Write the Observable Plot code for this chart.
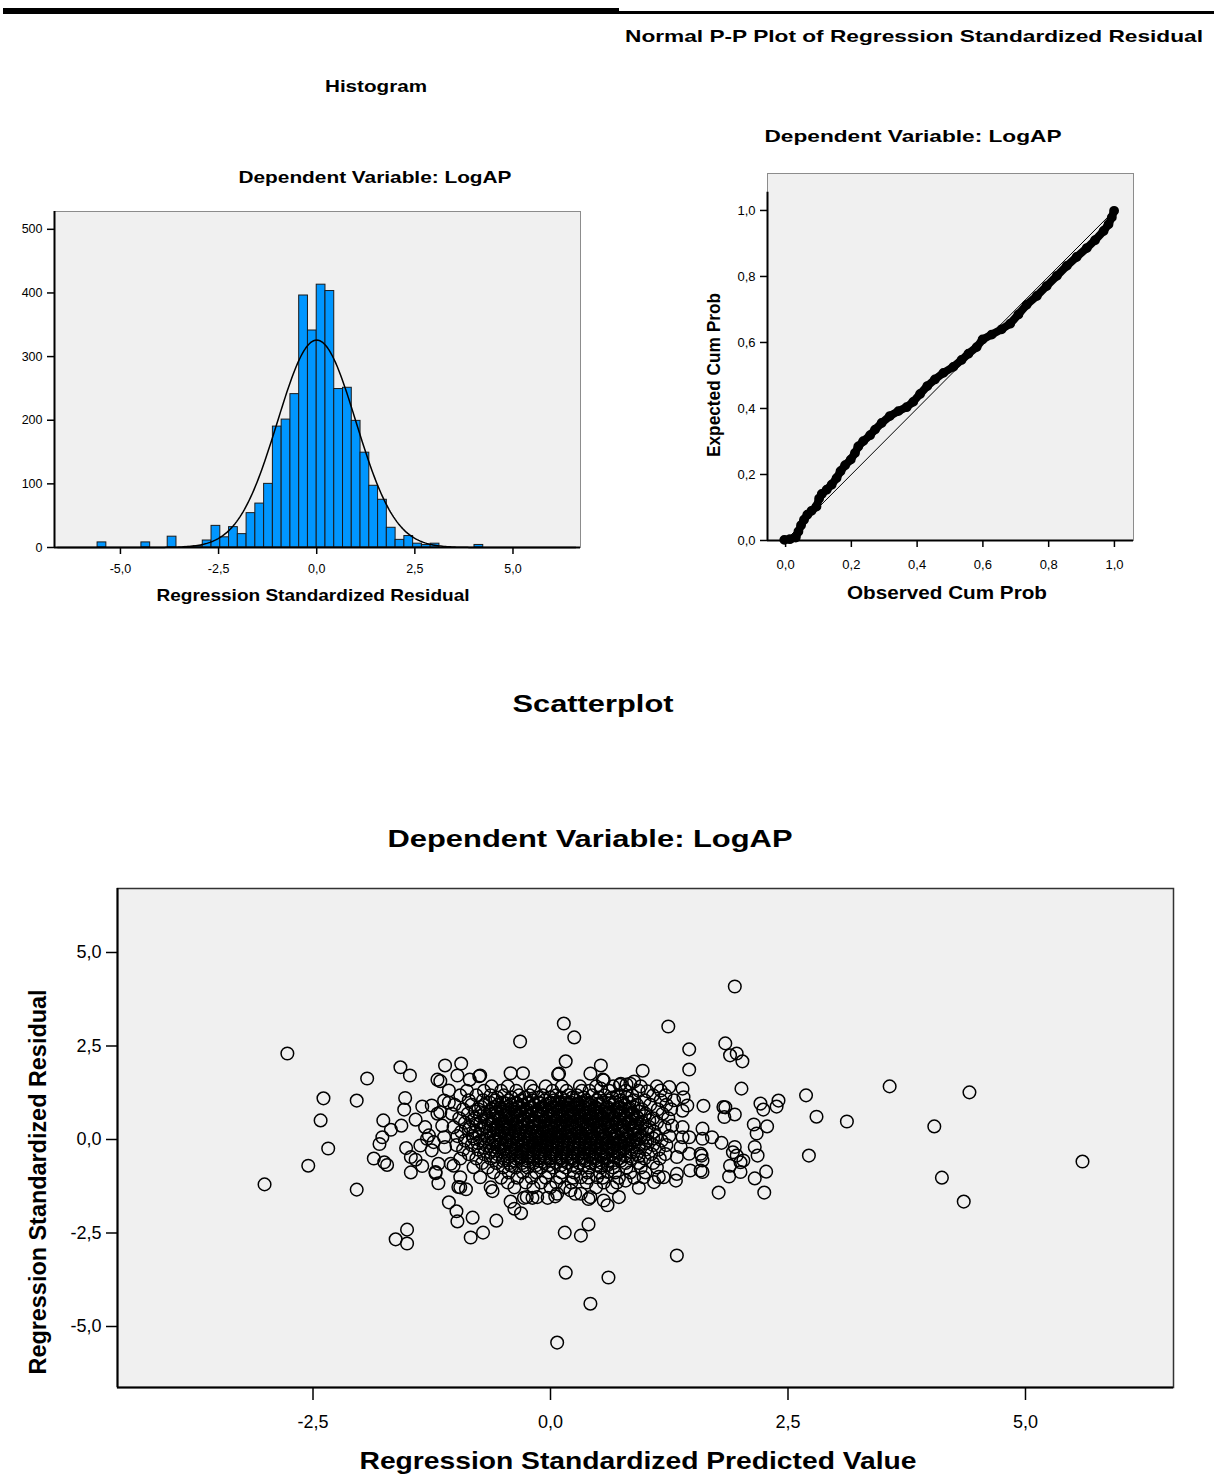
<!DOCTYPE html>
<html><head><meta charset="utf-8">
<script src="https://cdn.jsdelivr.net/npm/d3@7"></script>
<script src="https://cdn.jsdelivr.net/npm/@observablehq/plot@0.6"></script>
<style>
body{margin:0;background:#fff;width:1214px;height:1475px;position:relative;overflow:hidden;font-family:"Liberation Sans",Arial,sans-serif;}
.abs{position:absolute;}
</style></head><body>
<div class="abs" style="left:3px;top:8px;width:616px;height:6px;background:#000"></div>
<div class="abs" style="left:619px;top:11px;width:595px;height:3px;background:#000"></div>
<div id="hist" class="abs" style="left:0;top:190px"></div>
<div id="pp" class="abs" style="left:690px;top:160px"></div>
<div id="scatter" class="abs" style="left:0;top:870px"></div>
<svg id="labels" class="abs" style="left:0;top:0;pointer-events:none" width="1214" height="1475"></svg>
<script>
// ---------- Histogram data ----------
const histBinWidth = 0.2233;
const histBinIndex = [-25,-20,-17,-15,-14,-13,-12,-11,-10,-9,-8,-7,-6,-5,-4,-3,-2,-1,0,1,2,3,4,5,6,7,8,9,10,11,12,13,18];
const histCounts   = [8,8,17,1,2,11,34,16,32,21,54,69,100,190,201,241,396,341,413,403,249,251,199,149,97,75,31,12,18,6,4,6,4];
const residMean = 0, residSD = 1;
const histXTicks = [-5,-2.5,0,2.5,5];
const histYTicks = [0,100,200,300,400,500];

// ---------- P-P plot data ----------
const ppObserved = [-0.004,0.013,0.031,0.039,0.047,0.056,0.066,0.079,0.094,0.102,0.110,0.125,0.140,0.155,0.167,0.181,0.198,0.211,0.221,0.236,0.257,0.272,0.292,0.317,0.343,0.368,0.388,0.409,0.431,0.454,0.480,0.510,0.535,0.556,0.581,0.599,0.627,0.657,0.683,0.708,0.733,0.764,0.794,0.825,0.855,0.885,0.916,0.941,0.967,0.982,0.992,0.999];
const ppExpected = [0.002,0.004,0.009,0.027,0.046,0.063,0.078,0.090,0.103,0.127,0.141,0.154,0.169,0.189,0.210,0.228,0.245,0.265,0.285,0.301,0.319,0.336,0.356,0.377,0.392,0.404,0.420,0.444,0.468,0.488,0.508,0.526,0.547,0.566,0.586,0.609,0.624,0.640,0.657,0.685,0.714,0.741,0.771,0.802,0.832,0.859,0.886,0.910,0.938,0.958,0.979,0.999];
const ppTicks = [0,0.2,0.4,0.6,0.8,1];

// ---------- Scatterplot data ----------
const scatterXTicks = [-2.5,0,2.5,5];
const scatterYTicks = [-5,-2.5,0,2.5,5];
const scatterOutliers = [
[1.94,4.09],[1.24,3.02],[0.14,3.10],[0.25,2.73],[-0.32,2.62],[-2.77,2.30],[1.84,2.57],[1.46,2.41],[1.89,2.25],[1.96,2.30],
[2.02,2.09],[0.16,2.09],[0.53,1.98],[-1.58,1.93],[-1.48,1.71],[-1.93,1.63],[-1.11,1.98],[-0.94,2.03],[0.97,1.84],[1.46,1.87],
[3.57,1.42],[4.41,1.26],[2.01,1.36],[2.69,1.18],[-2.39,1.10],[-2.04,1.04],[2.40,1.04],[2.21,0.96],[2.38,0.88],[2.24,0.80],
[1.84,0.86],[2.80,0.61],[3.12,0.48],[4.04,0.35],[-2.42,0.51],[-1.76,0.51],[2.28,0.35],[2.14,0.40],[2.17,0.16],[2.72,-0.43],
[5.60,-0.59],[-2.34,-0.24],[-2.55,-0.70],[-3.01,-1.20],[-2.04,-1.34],[-1.86,-0.51],[4.12,-1.02],[4.35,-1.66],[2.27,-0.86],[2.15,-1.04],
[2.25,-1.42],[1.77,-1.42],[1.88,-0.99],[-1.07,-1.68],[-0.99,-1.92],[-0.98,-2.19],[-0.82,-2.09],[-0.57,-2.17],[-0.71,-2.49],[-0.84,-2.62],
[-1.51,-2.41],[-1.63,-2.67],[-1.51,-2.78],[0.15,-2.49],[0.32,-2.57],[0.40,-2.27],[1.33,-3.10],[0.16,-3.56],[0.61,-3.69],[0.42,-4.39],
[0.07,-5.43],[-0.98,1.71],[-1.19,1.60],[-1.16,1.56],[-0.85,1.60],[-0.75,1.69],[-0.42,1.77],[-0.29,1.77],[0.08,1.74],[0.42,1.76],
[0.55,1.60],[1.02,1.29],[0.84,1.49],[0.80,1.47],[0.73,1.46],[0.88,1.55],[0.53,1.36],[0.56,1.58],[1.39,1.36],[1.25,1.40],
[1.40,1.13],[1.44,0.91],[1.61,0.90],[1.82,0.87],[1.83,0.60],[1.94,0.67],[1.80,-0.09],[1.70,0.06],[1.60,0.29],[1.60,0.02],
[-1.53,1.11],[-1.54,0.80],[-1.57,0.37],[-1.68,0.26],[-1.77,0.06],[-1.80,-0.12],[-1.75,-0.61],[-1.72,-0.68],[-1.52,-0.23],[-1.47,-0.47],
[-1.42,-0.54],[-1.47,-0.88],[-1.35,-0.71],[-1.18,-1.17],[-1.21,-0.90],[-0.95,-1.28],[-0.89,-1.33],[-0.63,-1.28],[-0.61,-1.38],[-0.42,-1.66],
[-0.38,-1.85],[-0.31,-1.97],[-0.28,-1.56],[-0.19,-1.56],[-0.03,-1.56],[0.05,-1.52],[0.21,-1.36],[0.26,-1.45],[0.40,-1.59],[0.56,-1.63],
[0.60,-1.76],[0.72,-1.54],[0.93,-1.29],[1.09,-1.14],[1.14,-1.00],[0.79,-1.10],[1.32,-1.10],[1.33,-0.92],[1.60,-0.87],[1.59,-0.43],
[1.94,-0.20],[1.92,-0.34],[1.96,-0.43],[2.03,-0.56],[2.00,-0.61],[1.89,-0.70],[2.00,-0.87],[2.15,-0.20],[2.18,-0.43],[1.58,-0.38],
[1.60,-0.56],[1.58,-0.83],[1.47,-0.83],[-1.07,1.31],[-1.12,1.04],[-1.07,0.99],[-1.35,0.88],[-1.25,0.91],[-1.19,0.69],[-1.16,0.73],
[-1.42,0.53],[-1.32,0.33],[-1.28,0.11],[-1.23,-0.07],[-1.30,0.02],[-1.37,-0.16],[-1.14,0.37],[-1.12,0.06],[-1.11,-0.20],[-1.25,-0.29],
[-1.18,-0.65],[-1.21,-0.87],[-1.05,-0.65],[-1.02,-0.70],[-0.95,-1.01],[-0.97,-1.27],[-0.81,-0.74],[-0.74,-1.01],[1.39,0.33],[1.39,0.06],
[1.37,-0.20],[1.33,-0.47],[1.19,-1.01],[1.28,0.37],[1.46,0.06],[1.46,-0.38],[1.16,1.31],[1.39,0.77],[-0.25,-1.54],[-0.14,-1.54],
[0.07,-1.45],[0.32,-1.45],[0.42,-1.54],[0.98,-1.01],[0.32,-1.01],[0.49,-1.01],[0.60,-0.87],[-0.74,1.71],[0.09,1.76],[0.74,1.49]
];
// dense central cluster, read row by row: [residual, [predicted values...]]
const scatterCoreRows = [
[1.42,[-0.62,-0.45,-0.21,-0.05,0.12,0.31,0.48,0.66,0.95,1.12]],
[1.30,[-0.88,-0.70,-0.52,-0.36,-0.18,0.02,0.17,0.33,0.41,0.62,0.79,0.93]],
[1.18,[-0.95,-0.78,-0.63,-0.49,-0.33,-0.22,-0.08,0.06,0.19,0.28,0.44,0.57,0.71,0.86,1.08,1.21]],
[1.05,[-0.86,-0.71,-0.58,-0.44,-0.31,-0.19,-0.06,0.04,0.15,0.26,0.37,0.49,0.61,0.74,0.88,0.99,1.16,1.30]],
[0.93,[-1.01,-0.83,-0.69,-0.55,-0.42,-0.29,-0.17,-0.05,0.07,0.18,0.29,0.41,0.52,0.66,0.78,0.91,1.05,1.22]],
[0.81,[-0.92,-0.76,-0.62,-0.50,-0.38,-0.25,-0.12,-0.01,0.10,0.21,0.33,0.45,0.57,0.69,0.82,0.96,1.13,1.27]],
[0.69,[-1.04,-0.87,-0.70,-0.56,-0.44,-0.32,-0.20,-0.09,0.03,0.14,0.25,0.37,0.48,0.60,0.73,0.86,1.00,1.18]],
[0.57,[-0.96,-0.80,-0.66,-0.53,-0.41,-0.28,-0.15,-0.04,0.08,0.19,0.30,0.42,0.54,0.66,0.79,0.92,1.08,1.24]],
[0.45,[-0.90,-0.74,-0.60,-0.47,-0.35,-0.23,-0.11,0.01,0.12,0.23,0.35,0.47,0.58,0.70,0.83,0.97,1.12]],
[0.33,[-1.02,-0.85,-0.69,-0.55,-0.43,-0.30,-0.18,-0.06,0.05,0.16,0.27,0.39,0.51,0.63,0.76,0.89,1.04,1.20]],
[0.21,[-0.94,-0.79,-0.64,-0.51,-0.38,-0.26,-0.14,-0.02,0.09,0.20,0.31,0.43,0.55,0.67,0.80,0.94,1.09]],
[0.09,[-0.98,-0.82,-0.67,-0.53,-0.40,-0.27,-0.15,-0.03,0.08,0.19,0.31,0.43,0.56,0.68,0.81,0.95,1.11,1.25]],
[-0.03,[-0.90,-0.74,-0.60,-0.47,-0.34,-0.22,-0.10,0.02,0.13,0.25,0.37,0.49,0.61,0.74,0.87,1.02,1.17]],
[-0.15,[-0.99,-0.83,-0.68,-0.55,-0.42,-0.29,-0.17,-0.05,0.07,0.18,0.30,0.42,0.54,0.67,0.80,0.93,1.08,1.22]],
[-0.27,[-0.92,-0.76,-0.62,-0.49,-0.36,-0.23,-0.11,0.01,0.12,0.24,0.36,0.48,0.60,0.73,0.86,1.00,1.14]],
[-0.39,[-0.86,-0.70,-0.56,-0.43,-0.30,-0.18,-0.06,0.06,0.17,0.29,0.41,0.53,0.65,0.78,0.91,1.06,1.21]],
[-0.51,[-0.95,-0.78,-0.63,-0.49,-0.36,-0.24,-0.12,0.00,0.11,0.23,0.35,0.47,0.59,0.72,0.85,0.99,1.15]],
[-0.63,[-0.72,-0.57,-0.43,-0.30,-0.18,-0.06,0.06,0.18,0.30,0.42,0.54,0.66,0.79,0.93,1.08]],
[-0.75,[-0.66,-0.50,-0.37,-0.24,-0.10,0.03,0.16,0.28,0.41,0.53,0.66,0.80,0.95,1.12]],
[-0.88,[-0.60,-0.44,-0.29,-0.15,-0.02,0.12,0.25,0.39,0.52,0.68,0.84,1.00]],
[-1.02,[-0.52,-0.35,-0.20,-0.05,0.10,0.24,0.40,0.55,0.72,0.88]],
[-1.15,[-0.45,-0.26,-0.10,0.06,0.22,0.38,0.56,0.70]],
[-1.28,[-0.38,-0.18,0.00,0.15,0.48,0.65]],
// second, interleaved layer of the solid black core
[1.12,[-0.56,-0.41,-0.27,-0.13,0.00,0.11,0.23,0.35,0.51,0.65,0.80]],
[0.99,[-0.64,-0.50,-0.37,-0.24,-0.12,0.00,0.10,0.21,0.32,0.43,0.55,0.68,0.83]],
[0.87,[-0.73,-0.58,-0.45,-0.33,-0.21,-0.09,0.02,0.13,0.24,0.35,0.47,0.60,0.73,0.87]],
[0.75,[-0.79,-0.64,-0.50,-0.38,-0.26,-0.14,-0.03,0.08,0.19,0.30,0.42,0.54,0.66,0.79,0.93]],
[0.63,[-0.74,-0.60,-0.47,-0.35,-0.22,-0.10,0.02,0.13,0.24,0.36,0.48,0.60,0.72,0.85,0.99]],
[0.51,[-0.82,-0.67,-0.54,-0.41,-0.29,-0.17,-0.05,0.06,0.17,0.29,0.41,0.52,0.64,0.77,0.90,1.04]],
[0.39,[-0.78,-0.63,-0.49,-0.37,-0.24,-0.12,0.00,0.11,0.22,0.33,0.45,0.57,0.69,0.82,0.95]],
[0.27,[-0.86,-0.71,-0.57,-0.44,-0.32,-0.20,-0.08,0.03,0.14,0.26,0.37,0.49,0.61,0.74,0.87,1.01]],
[0.15,[-0.75,-0.60,-0.46,-0.33,-0.21,-0.09,0.03,0.14,0.25,0.37,0.49,0.62,0.75,0.88,1.02]],
[0.03,[-0.81,-0.66,-0.53,-0.40,-0.28,-0.16,-0.04,0.07,0.19,0.31,0.43,0.55,0.67,0.80,0.94,1.08]],
[-0.09,[-0.77,-0.62,-0.48,-0.35,-0.23,-0.11,0.01,0.12,0.24,0.36,0.48,0.60,0.73,0.86,1.00]],
[-0.21,[-0.70,-0.56,-0.42,-0.30,-0.17,-0.05,0.07,0.18,0.30,0.42,0.54,0.66,0.79,0.93]],
[-0.33,[-0.64,-0.50,-0.37,-0.24,-0.12,0.00,0.12,0.23,0.35,0.47,0.59,0.72,0.85]],
[-0.45,[-0.58,-0.44,-0.31,-0.18,-0.06,0.06,0.17,0.29,0.41,0.53,0.66,0.79,0.93]],
[-0.57,[-0.50,-0.37,-0.24,-0.12,0.00,0.12,0.24,0.36,0.48,0.61,0.74]],
[-0.69,[-0.42,-0.28,-0.15,-0.02,0.11,0.23,0.35,0.48,0.60]],
// third layer, innermost solid core
[0.96,[-0.47,-0.35,-0.23,-0.11,-0.01,0.09,0.19,0.29,0.40,0.51,0.62,0.74]],
[0.84,[-0.53,-0.41,-0.30,-0.19,-0.07,0.04,0.15,0.26,0.37,0.48,0.59,0.71,0.83]],
[0.72,[-0.58,-0.47,-0.36,-0.25,-0.14,-0.03,0.08,0.18,0.29,0.40,0.51,0.62,0.74,0.86]],
[0.60,[-0.55,-0.44,-0.33,-0.22,-0.11,0.00,0.11,0.21,0.32,0.43,0.55,0.67,0.79,0.91]],
[0.48,[-0.62,-0.50,-0.39,-0.28,-0.17,-0.06,0.05,0.16,0.27,0.38,0.49,0.61,0.73,0.85]],
[0.36,[-0.57,-0.46,-0.35,-0.24,-0.13,-0.02,0.09,0.20,0.31,0.42,0.53,0.65,0.77,0.90]],
[0.24,[-0.60,-0.48,-0.37,-0.26,-0.15,-0.04,0.07,0.18,0.29,0.40,0.52,0.64,0.76,0.88]],
[0.12,[-0.55,-0.44,-0.33,-0.22,-0.11,0.00,0.11,0.22,0.33,0.44,0.56,0.68,0.80,0.92]],
[0.00,[-0.58,-0.46,-0.35,-0.24,-0.13,-0.02,0.09,0.20,0.31,0.42,0.54,0.66,0.78,0.90]],
[-0.12,[-0.52,-0.41,-0.30,-0.19,-0.08,0.03,0.14,0.25,0.36,0.47,0.59,0.71,0.83]],
[-0.24,[-0.47,-0.36,-0.25,-0.14,-0.03,0.08,0.19,0.30,0.41,0.53,0.65,0.77]],
[-0.36,[-0.41,-0.30,-0.19,-0.08,0.03,0.14,0.25,0.36,0.47,0.59,0.71]],
[-0.48,[-0.33,-0.22,-0.11,0.00,0.11,0.22,0.33,0.44,0.56,0.68]]
];

const fmt1 = d => d.toFixed(1).replace(".", ",");
const FONT = "Liberation Sans, Arial, sans-serif";
const baseStyle = {fontFamily: FONT, color: "#000", background: "transparent", overflow: "visible"};

// ---------- Histogram ----------
const histN = d3.sum(histCounts);
const histData = histBinIndex.map((b, i) => ({x1: b * histBinWidth, x2: (b + 1) * histBinWidth, count: histCounts[i]}));
const histCurve = d3.range(-6.6, 6.601, 0.04).map(x => ({
  x, y: histN * histBinWidth * Math.exp(-0.5 * ((x - residMean) / residSD) ** 2) / (residSD * Math.sqrt(2 * Math.PI))
}));
const hx = [-6.68, 6.72];
const hist = Plot.plot({
  width: 600, height: 440, marginLeft: 54, marginRight: 20, marginTop: 21, marginBottom: 83,
  style: {...baseStyle, fontSize: "12.5px"},
  x: {domain: hx}, y: {domain: [0, 528]},
  marks: [
    Plot.frame({fill: "#f0f0f0", stroke: "#8c8c8c"}),
    Plot.rectY(histData, {x1: "x1", x2: "x2", y: "count", fill: "#0096ff", stroke: "#1a1a1a", strokeWidth: 1}),
    Plot.line(histCurve, {x: "x", y: "y", stroke: "#000", strokeWidth: 1.5}),
    Plot.ruleY([0], {stroke: "#000", strokeWidth: 2}),
    Plot.ruleX([hx[0]], {stroke: "#000", strokeWidth: 2}),
    Plot.axisX({ticks: histXTicks, tickFormat: fmt1, tickSize: 7, tickPadding: 10, strokeWidth: 1.5, label: null, fontSize: 12.5}),
    Plot.axisY({ticks: histYTicks, tickFormat: d => String(d), tickSize: 7, tickPadding: 5, strokeWidth: 1.5, label: null, fontSize: 12.5})
  ]
});
document.getElementById("hist").append(hist);

// ---------- P-P plot ----------
const ppData = ppObserved.map((o, i) => ({obs: o, exp: ppExpected[i]}));
const px = [-0.055, 1.058];
const pp = Plot.plot({
  width: 470, height: 460, marginLeft: 77, marginRight: 27, marginTop: 13, marginBottom: 80,
  style: {...baseStyle, fontSize: "13px"},
  x: {domain: px}, y: {domain: [0, 1.112]},
  marks: [
    Plot.frame({fill: "#f0f0f0", stroke: "#8c8c8c"}),
    Plot.line([[0, 0], [1, 1]], {stroke: "#000", strokeWidth: 1}),
    Plot.line(ppData, {x: "obs", y: "exp", stroke: "#000", strokeWidth: 8, strokeLinecap: "round", strokeLinejoin: "round"}),
    Plot.dot(ppData, {x: "obs", y: "exp", r: 4, stroke: "#000", strokeWidth: 1.8, fill: "none"}),
    Plot.ruleY([0], {stroke: "#000", strokeWidth: 2}),
    Plot.ruleX([px[0]], {y1: 0, y2: 1.055, stroke: "#000", strokeWidth: 2}),
    Plot.axisX({ticks: ppTicks, tickFormat: fmt1, tickSize: 7, tickPadding: 12, strokeWidth: 1.5, label: null, fontSize: 13}),
    Plot.axisY({ticks: ppTicks, tickFormat: fmt1, tickSize: 7, tickPadding: 5, strokeWidth: 1.5, label: null, fontSize: 13})
  ]
});
document.getElementById("pp").append(pp);

// ---------- Scatterplot ----------
const scatterPoints = scatterOutliers.map(([x, y]) => ({x, y}));
for (const [y, xs] of scatterCoreRows) for (const x of xs) scatterPoints.push({x, y});
const sx = [-4.558, 6.558], sy = [-6.631, 6.711];
const scatter = Plot.plot({
  width: 1214, height: 580, marginLeft: 117, marginRight: 41, marginTop: 18, marginBottom: 63,
  style: {...baseStyle, fontSize: "18px"},
  x: {domain: sx}, y: {domain: sy},
  marks: [
    Plot.frame({fill: "#f0f0f0", stroke: "#333", strokeWidth: 1.5}),
    Plot.dot(scatterPoints, {x: "x", y: "y", r: 6.3, stroke: "#000", strokeWidth: 1.5, fill: "none"}),
    Plot.ruleY([sy[0]], {stroke: "#000", strokeWidth: 2}),
    Plot.ruleX([sx[0]], {stroke: "#000", strokeWidth: 2}),
    Plot.axisX({ticks: scatterXTicks, tickFormat: fmt1, tickSize: 13, tickPadding: 15, strokeWidth: 1.5, label: null, fontSize: 18}),
    Plot.axisY({ticks: scatterYTicks, tickFormat: fmt1, tickSize: 11, tickPadding: 5, strokeWidth: 1.5, label: null, fontSize: 18})
  ]
});
document.getElementById("scatter").append(scatter);

// ---------- Titles and axis labels ----------
const labels = [
  {t: "Normal P-P Plot of Regression Standardized Residual", cx: 914, cy: 36, s: 16.5, len: 578},
  {t: "Histogram", cx: 376, cy: 86, s: 16.5, len: 102},
  {t: "Dependent Variable: LogAP", cx: 375, cy: 177, s: 16.5, len: 273},
  {t: "Dependent Variable: LogAP", cx: 913, cy: 136, s: 16.5, len: 297},
  {t: "Regression Standardized Residual", cx: 313, cy: 595, s: 16.5, len: 313},
  {t: "Observed Cum Prob", cx: 947, cy: 593, s: 17.5, len: 200},
  {t: "Expected Cum Prob", cx: 714, cy: 375, s: 17.5, len: 164, rot: true},
  {t: "Scatterplot", cx: 593, cy: 703, s: 24.5, len: 161},
  {t: "Dependent Variable: LogAP", cx: 590, cy: 838, s: 24.5, len: 405},
  {t: "Regression Standardized Predicted Value", cx: 638, cy: 1460, s: 24, len: 557},
  {t: "Regression Standardized Residual", cx: 37, cy: 1182, s: 24.5, len: 385, rot: true}
];
const lsvg = d3.select("#labels");
for (const L of labels) {
  const t = lsvg.append("text")
    .attr("font-family", FONT).attr("font-weight", "bold").attr("font-size", L.s)
    .attr("text-anchor", "middle").attr("fill", "#000")
    .attr("textLength", L.len).attr("lengthAdjust", "spacingAndGlyphs")
    .text(L.t);
  if (L.rot) t.attr("transform", `translate(${L.cx + 0.36 * L.s},${L.cy}) rotate(-90)`);
  else t.attr("x", L.cx).attr("y", L.cy + 0.36 * L.s);
}
</script>
</body></html>
